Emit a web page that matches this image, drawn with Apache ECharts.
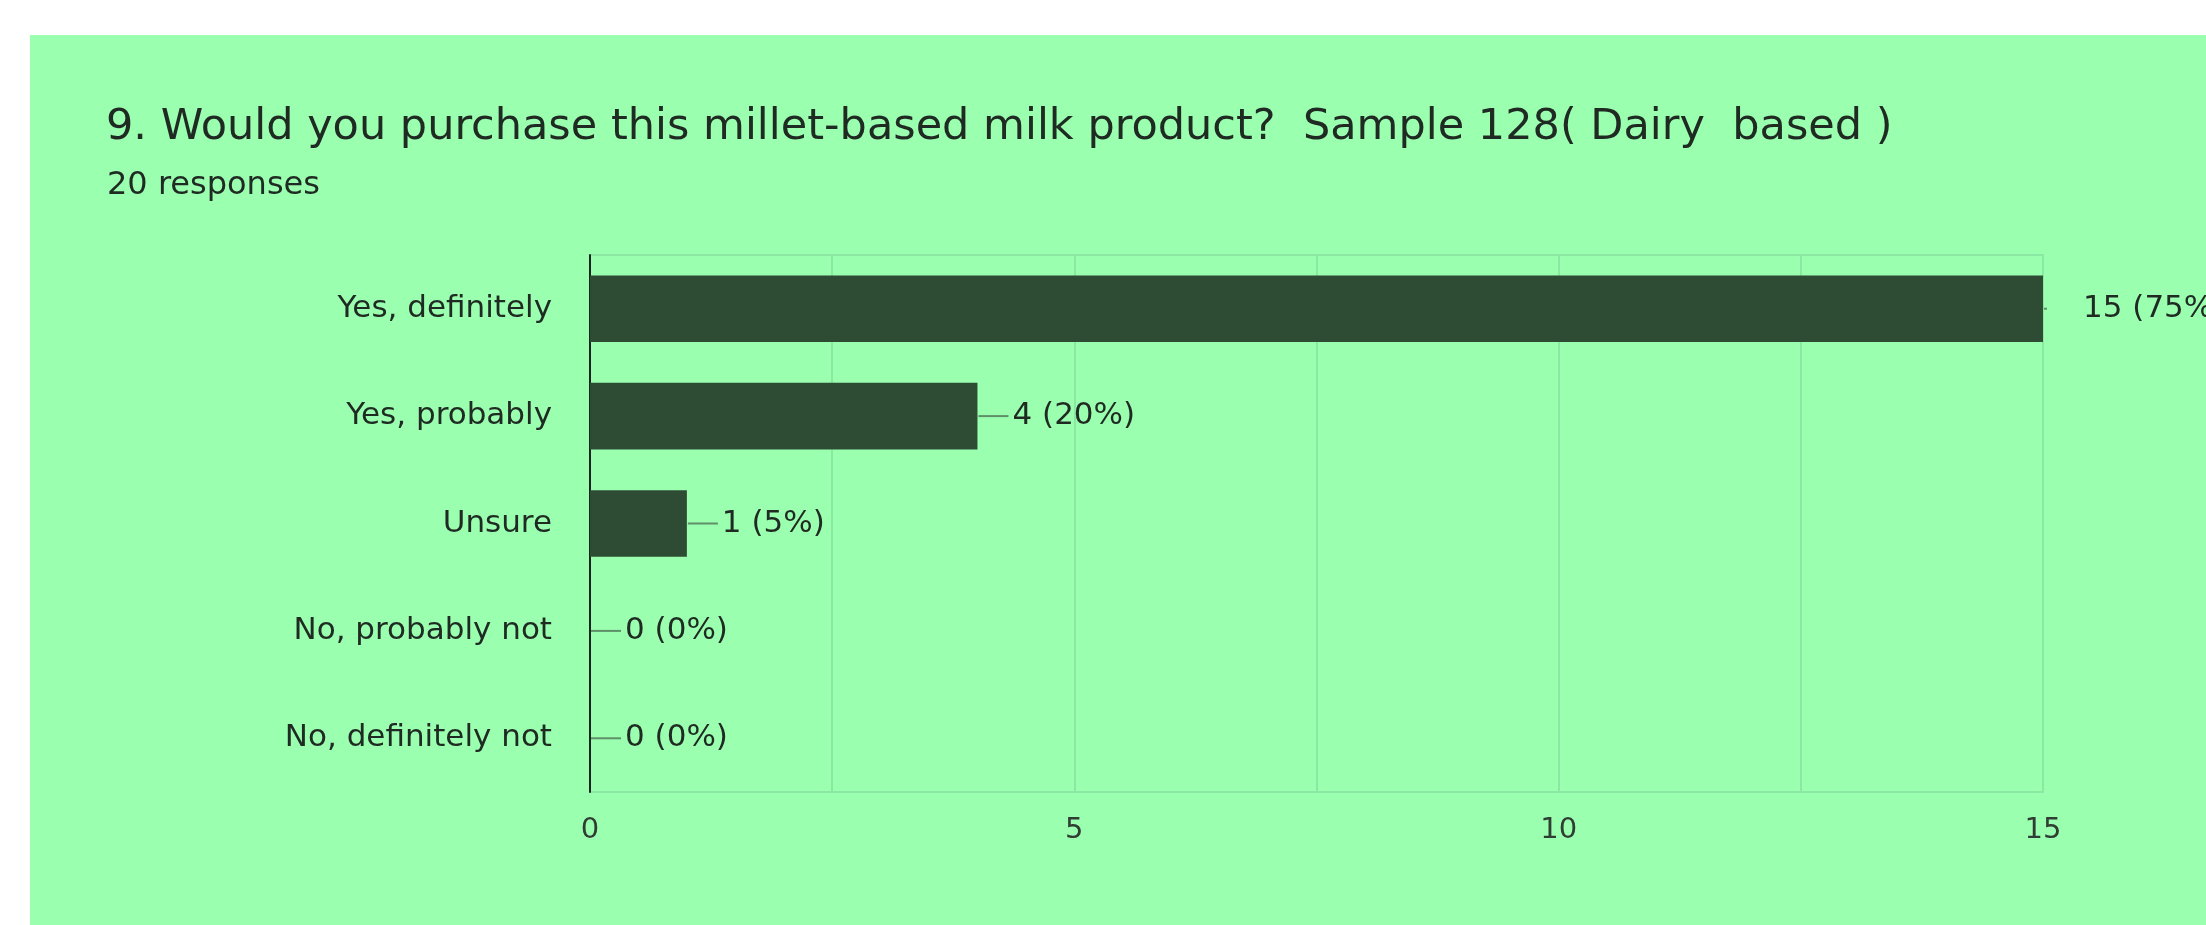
<!DOCTYPE html>
<html>
<head>
<meta charset="utf-8">
<script src="https://cdn.jsdelivr.net/npm/echarts@6/dist/echarts.min.js"></script>
<style>
  html, body { margin: 0; padding: 0; background: #ffffff; }
  #chart { width: 2206px; height: 925px; }
</style>
</head>
<body>
<div id="chart"></div>
<script>
const titleText = '9. Would you purchase this millet-based milk product?  Sample 128( Dairy  based )';
const subtitleText = '20 responses';
const categories = ['Yes, definitely', 'Yes, probably', 'Unsure', 'No, probably not', 'No, definitely not'];
const counts = [15, 4, 1, 0, 0];
const totalResponses = 20;
const axisMax = 15;
const labelledTicks = [0, 5, 10, 15];

const chart = echarts.init(document.getElementById('chart'), null, { renderer: 'canvas' });
const maxCount = Math.max.apply(null, counts);

const option = {
  backgroundColor: '#ffffff',
  animation: false,
  graphic: [{
    type: 'rect',
    z: -10,
    shape: { x: 30, y: 35, width: 2176, height: 890 },
    style: { fill: '#9bffb0' }
  }],
  title: [
    {
      text: titleText,
      left: 101,
      top: 101,
      textStyle: { fontFamily: 'DejaVu Sans', fontSize: 43, fontWeight: 'normal', color: '#1f2a22' }
    },
    {
      text: subtitleText,
      left: 102,
      top: 165,
      textStyle: { fontFamily: 'DejaVu Sans', fontSize: 32, fontWeight: 'normal', color: '#1f2a22' }
    }
  ],
  grid: {
    left: 590, right: 163, top: 255, bottom: 133,
    show: true, borderColor: '#8ae8a2', borderWidth: 2, backgroundColor: 'transparent'
  },
  xAxis: {
    type: 'value',
    min: 0,
    max: axisMax,
    interval: 2.5,
    axisLine: { show: false },
    axisTick: { show: false },
    splitLine: { show: true, lineStyle: { color: '#8ae8a2', width: 2 } },
    axisLabel: {
      margin: 24,
      fontFamily: 'DejaVu Sans',
      fontSize: 29,
      color: '#2f3d33',
      formatter: function (v) { return labelledTicks.indexOf(v) >= 0 ? String(v) : ''; }
    }
  },
  yAxis: {
    type: 'category',
    data: categories,
    inverse: true,
    axisLine: { show: true, lineStyle: { color: '#1d2420', width: 2 } },
    axisTick: { show: false },
    splitLine: { show: false },
    axisLabel: {
      margin: 38,
      fontFamily: 'DejaVu Sans',
      fontSize: 31,
      color: '#1f2a22'
    }
  },
  series: [{
    type: 'bar',
    data: counts,
    barCategoryGap: '38%',
    itemStyle: { color: '#2e4b34' },
    label: {
      show: true,
      position: 'right',
      distance: 1,
      formatter: function (p) {
        const pct = Math.round(p.value / totalResponses * 100);
        const txt = p.value + ' (' + pct + '%)';
        if (p.value === maxCount) {
          return '{tick| }{gap| }{txt|' + txt + '}';
        }
        return '{ln| }{gap2| }{txt|' + txt + '}';
      },
      rich: {
        ln: { width: 30, height: 2, backgroundColor: '#5e8f68' },
        tick: { width: 3, height: 2, backgroundColor: '#5e8f68' },
        gap: { width: 36 },
        gap2: { width: 4 },
        txt: { fontFamily: 'DejaVu Sans', fontSize: 31, color: '#1f2a22' }
      }
    }
  }]
};

chart.setOption(option);
</script>
</body>
</html>
